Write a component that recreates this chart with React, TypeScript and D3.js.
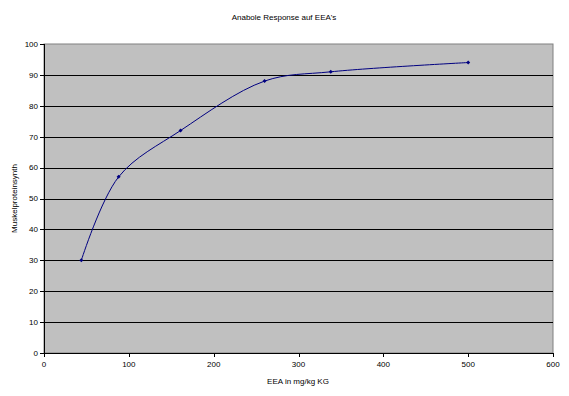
import React from "react";
import * as d3 from "d3";

const doses = [44, 88, 161, 260, 338, 500];
const responses = [30, 57, 72, 88, 91, 94];
const xTicks = [0, 100, 200, 300, 400, 500, 600];
const yTicks = [0, 10, 20, 30, 40, 50, 60, 70, 80, 90, 100];
const title = "Anabole Response auf EEA's";
const xLabel = "EEA in mg/kg KG";
const yLabel = "Muskelproteinsynth";

export default function App() {
  const W = 569, H = 396;
  const L = 44, R = 553, T = 44, B = 353;
  const x = d3.scaleLinear().domain([0, 600]).range([L, R]);
  const y = d3.scaleLinear().domain([0, 100]).range([B, T]);
  const pts: [number, number][] = doses.map((d, i) => [d, responses[i]]);
  const line = d3
    .line<[number, number]>()
    .x((d) => x(d[0]))
    .y((d) => y(d[1]))
    .curve(d3.curveCatmullRom.alpha(0.5));
  const font = "Liberation Sans, Arial, sans-serif";
  return (
    <svg
      width={W}
      height={H}
      style={{ position: "absolute", left: 0, top: 0, background: "#fff" }}
      fontFamily={font}
    >
      <rect x={L} y={T} width={R - L} height={B - T} fill="#C0C0C0" stroke="#808080" strokeWidth={1} />
      {yTicks.filter((t) => t > 0 && t < 100).map((t) => (
        <line key={"g" + t} x1={L} x2={R} y1={Math.round(y(t)) + 0.5} y2={Math.round(y(t)) + 0.5} stroke="#000" strokeWidth={1} />
      ))}
      <line x1={L + 0.5} x2={L + 0.5} y1={T} y2={B + 0.5} stroke="#000" />
      <line x1={L} x2={R} y1={B + 0.5} y2={B + 0.5} stroke="#000" />
      {yTicks.map((t) => (
        <g key={"y" + t}>
          <line x1={L - 4} x2={L} y1={Math.round(y(t)) + 0.5} y2={Math.round(y(t)) + 0.5} stroke="#000" />
          <text x={L - 6} y={y(t)} dy="0.35em" textAnchor="end" fontSize={8}>
            {t}
          </text>
        </g>
      ))}
      {xTicks.map((t) => (
        <g key={"x" + t}>
          <line x1={Math.round(x(t)) + 0.5} x2={Math.round(x(t)) + 0.5} y1={B} y2={B + 4} stroke="#000" />
          <text x={x(t)} y={B + 14} textAnchor="middle" fontSize={8}>
            {t}
          </text>
        </g>
      ))}
      <path d={line(pts) || ""} fill="none" stroke="#000080" strokeWidth={1} />
      {pts.map((p, i) => (
        <path
          key={"m" + i}
          d={`M${x(p[0])},${y(p[1]) - 2}L${x(p[0]) + 2},${y(p[1])}L${x(p[0])},${y(p[1]) + 2}L${x(p[0]) - 2},${y(p[1])}Z`}
          fill="#000080"
        />
      ))}
      <text x={284} y={20} textAnchor="middle" fontSize={8}>
        {title}
      </text>
      <text x={298} y={384} textAnchor="middle" fontSize={8}>
        {xLabel}
      </text>
      <text transform={`translate(17,${(T + B) / 2}) rotate(-90)`} textAnchor="middle" fontSize={8}>
        {yLabel}
      </text>
    </svg>
  );
}
